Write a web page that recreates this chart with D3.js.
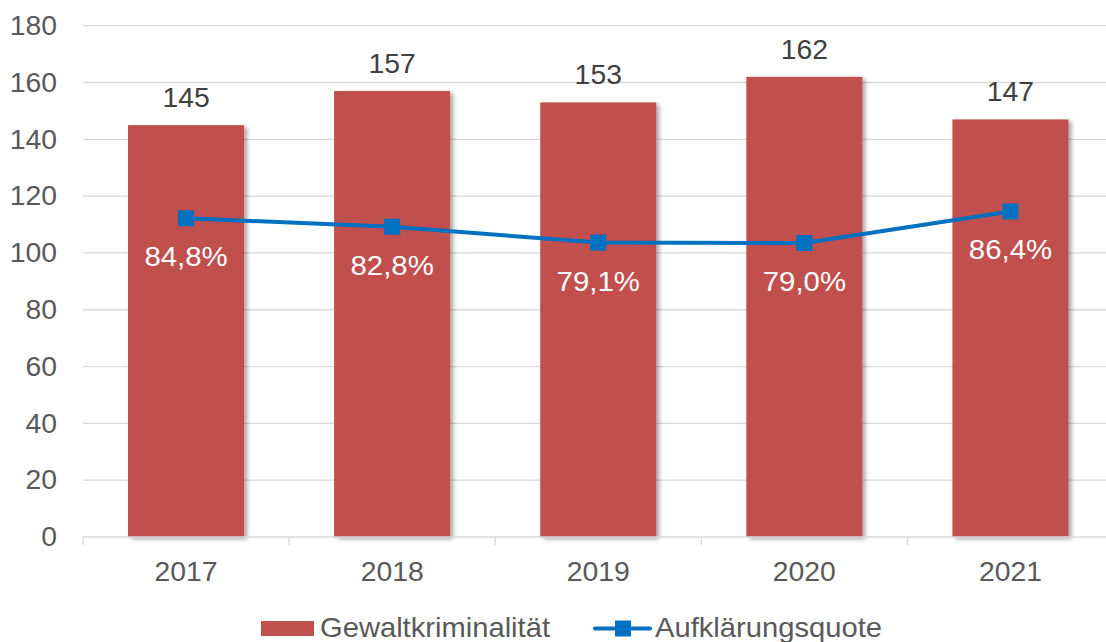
<!DOCTYPE html>
<html>
<head>
<meta charset="utf-8">
<script src="https://cdn.jsdelivr.net/npm/d3@7"></script>
<style>
  html, body { margin: 0; padding: 0; background: #fff; }
  svg { display: block; font-family: "Liberation Sans", Arial, sans-serif; }
</style>
</head>
<body>
<svg id="chart" width="1106" height="642"></svg>
<script>
const categories = ["2017", "2018", "2019", "2020", "2021"];
const gewalt = [145, 157, 153, 162, 147];
const quote = [84.8, 82.8, 79.1, 79.0, 86.4];
const quoteLabels = ["84,8%", "82,8%", "79,1%", "79,0%", "86,4%"];
const yTicks = [0, 20, 40, 60, 80, 100, 120, 140, 160, 180];
const seriesNames = ["Gewaltkriminalität", "Aufklärungsquote"];

const svg = d3.select("#chart");
const plotLeft = 83, plotRight = 1113.5, plotTop = 25.7, plotBottom = 537;
const SX = 1.05;

const x = d3.scaleBand().domain(categories).range([plotLeft, plotRight]).padding(0);
const y = d3.scaleLinear().domain([0, 180]).range([plotBottom, plotTop]);
const y2 = d3.scaleLinear().domain([10, 130]).range([plotBottom, plotTop]);
const barW = x.bandwidth() * 0.563;

const defs = svg.append("defs");
const f = defs.append("filter").attr("id", "shadow").attr("x", "-10%").attr("y", "-10%").attr("width", "130%").attr("height", "130%");
f.append("feDropShadow").attr("dx", 3).attr("dy", 2).attr("stdDeviation", 2.2)
  .attr("flood-color", "#000").attr("flood-opacity", 0.35);

function place(sel, fx, fy) {
  sel.attr("transform", (d, i) => `translate(${fx(d, i)},${fy(d, i)}) scale(${SX},1)`);
}

// gridlines
svg.append("g").selectAll("line").data(yTicks.filter(d => d > 0)).join("line")
  .attr("x1", plotLeft).attr("x2", 1106)
  .attr("y1", d => y(d)).attr("y2", d => y(d))
  .attr("stroke", "#d9d9d9").attr("stroke-width", 1.3);

// y axis labels
svg.append("g").selectAll("text").data(yTicks).join("text")
  .call(place, () => 57, d => y(d)).attr("dy", "0.34em")
  .attr("text-anchor", "end").attr("font-size", 27).attr("fill", "#595959")
  .text(d => d);

// bars
svg.append("g").selectAll("rect").data(gewalt).join("rect")
  .attr("x", (d, i) => x(categories[i]) + (x.bandwidth() - barW) / 2)
  .attr("y", d => y(d))
  .attr("width", barW)
  .attr("height", d => y(0) - y(d))
  .attr("fill", "#c0504d")
  .attr("filter", "url(#shadow)");

// x axis
const xa = svg.append("g");
xa.append("line").attr("x1", plotLeft).attr("x2", 1106).attr("y1", plotBottom).attr("y2", plotBottom)
  .attr("stroke", "#d9d9d9").attr("stroke-width", 1.3);
xa.selectAll("line.tick").data(categories).join("line").attr("class", "tick")
  .attr("x1", d => x(d)).attr("x2", d => x(d))
  .attr("y1", plotBottom).attr("y2", plotBottom + 8)
  .attr("stroke", "#d9d9d9").attr("stroke-width", 1.3);
xa.selectAll("text").data(categories).join("text")
  .call(place, d => x(d) + x.bandwidth() / 2, () => 581)
  .attr("text-anchor", "middle").attr("font-size", 27).attr("fill", "#595959")
  .text(d => d);

// bar labels
svg.append("g").selectAll("text").data(gewalt).join("text")
  .call(place, (d, i) => x(categories[i]) + x.bandwidth() / 2, d => y(d) - 18)
  .attr("text-anchor", "middle").attr("font-size", 27).attr("fill", "#404040")
  .text(d => d);

// line
const cx = (i) => x(categories[i]) + x.bandwidth() / 2;
svg.append("path").datum(quote)
  .attr("d", d3.line().x((d, i) => cx(i)).y(d => y2(d)))
  .attr("fill", "none").attr("stroke", "#0070c0").attr("stroke-width", 4)
  .attr("stroke-linejoin", "round");
svg.append("g").selectAll("rect").data(quote).join("rect")
  .attr("x", (d, i) => cx(i) - 8).attr("y", d => y2(d) - 8)
  .attr("width", 16).attr("height", 16).attr("fill", "#0070c0");

// percent labels
svg.append("g").selectAll("text").data(quote).join("text")
  .call(place, (d, i) => cx(i), d => y2(d) + 48)
  .attr("text-anchor", "middle").attr("font-size", 28).attr("fill", "#ffffff")
  .text((d, i) => quoteLabels[i]);

// legend
const lg = svg.append("g");
lg.append("rect").attr("x", 261).attr("y", 621).attr("width", 53).attr("height", 15).attr("fill", "#c0504d");
lg.append("text").attr("x", 320).attr("y", 637).attr("font-size", 28).attr("fill", "#595959")
  .attr("textLength", 230).attr("lengthAdjust", "spacingAndGlyphs").text(seriesNames[0]);
lg.append("line").attr("x1", 595).attr("x2", 650).attr("y1", 628.5).attr("y2", 628.5)
  .attr("stroke", "#0070c0").attr("stroke-width", 4).attr("stroke-linecap", "round");
lg.append("rect").attr("x", 615).attr("y", 620.5).attr("width", 16).attr("height", 16).attr("fill", "#0070c0");
lg.append("text").attr("x", 655).attr("y", 637).attr("font-size", 28).attr("fill", "#595959")
  .attr("textLength", 227).attr("lengthAdjust", "spacingAndGlyphs").text(seriesNames[1]);
</script>
</body>
</html>
